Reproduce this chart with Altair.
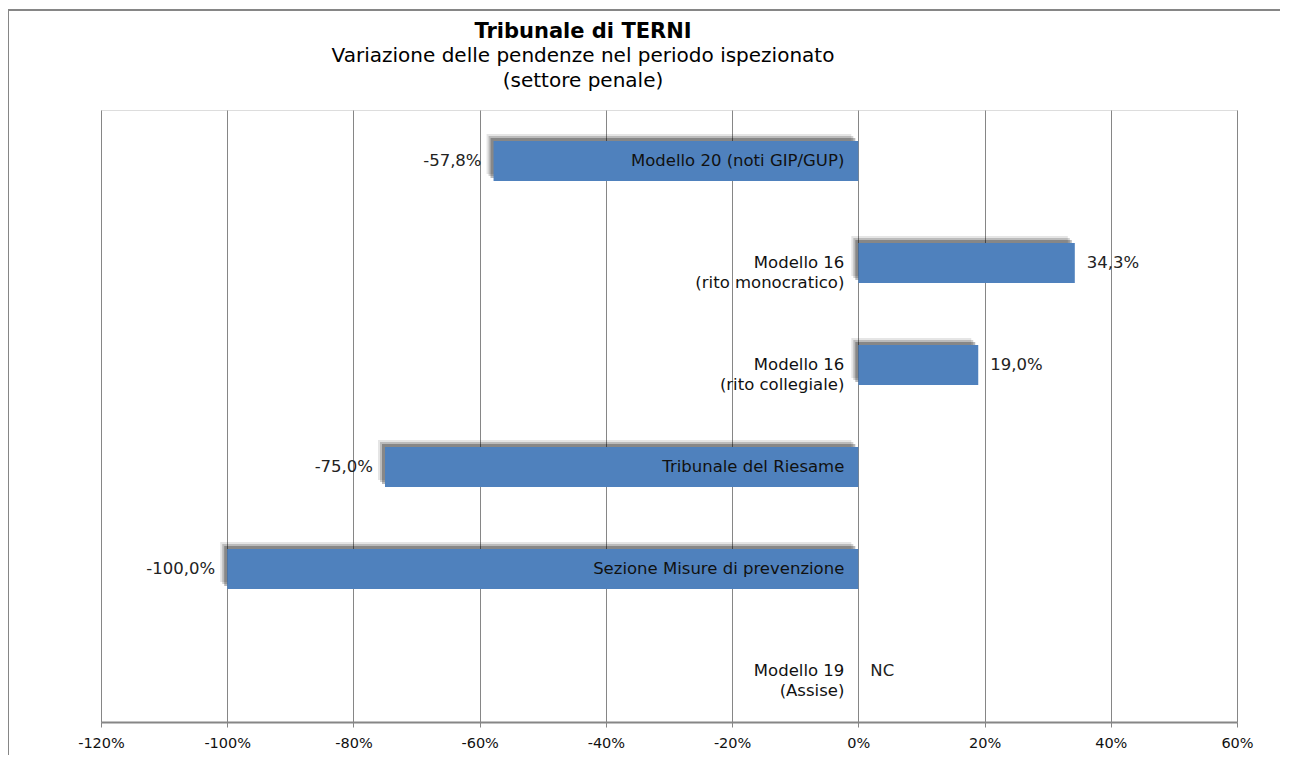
import altair as alt
import pandas as pd

categories = [
    "Modello 20 (noti GIP/GUP)",
    "Modello 16\n(rito monocratico)",
    "Modello 16\n(rito collegiale)",
    "Tribunale del Riesame",
    "Sezione Misure di prevenzione",
    "Modello 19\n(Assise)",
]
values = [-57.8, 34.3, 19.0, -75.0, -100.0, None]
value_labels = ["-57,8%", "34,3%", "19,0%", "-75,0%", "-100,0%", "NC"]
tick_values = [-120, -100, -80, -60, -40, -20, 0, 20, 40, 60]

title_text = "Tribunale di TERNI"
subtitle_lines = ["Variazione delle pendenze nel periodo ispezionato", "(settore penale)"]

df = pd.DataFrame({"cat": categories, "value": values, "vlabel": value_labels})

FONT = "DejaVu Sans"
BLUE = "#4F81BD"
GRID = "#868686"

y_enc = alt.Y("cat:N", sort=categories, axis=None,
              scale=alt.Scale(paddingInner=0.61, paddingOuter=0.305))
x_scale = alt.Scale(domain=[-120, 60], nice=False, zero=False)

base = alt.Chart(df)

bars_x = alt.X("value:Q", scale=x_scale,
               axis=alt.Axis(values=tick_values, labelExpr="datum.value + '%'",
                             grid=True, gridColor=GRID, gridWidth=1, gridOpacity=1,
                             domainColor=GRID, domainWidth=2,
                             tickColor=GRID, tickSize=5, tickWidth=1,
                             labelFont=FONT, labelFontSize=14.5, labelColor="#111",
                             labelPadding=9, labelFlush=False, labelOverlap=False,
                             title=None))

shadows = [
    base.mark_bar(color="#000", opacity=0.10, xOffset=-7, yOffset=-7).encode(x=alt.X("value:Q", scale=x_scale), y=y_enc),
    base.mark_bar(color="#000", opacity=0.18, xOffset=-5, yOffset=-5).encode(x=alt.X("value:Q", scale=x_scale), y=y_enc),
    base.mark_bar(color="#000", opacity=0.28, xOffset=-3, yOffset=-3).encode(x=alt.X("value:Q", scale=x_scale), y=y_enc),
]

bars = base.mark_bar(color=BLUE).encode(x=bars_x, y=y_enc)

cat_labels = base.mark_text(align="right", baseline="middle", dx=-14, font=FONT,
                            fontSize=16.5, lineBreak="\n", lineHeight=20,
                            color="#111").encode(
    x=alt.datum(0, scale=x_scale), y=y_enc, text="cat:N")

neg_labels = base.transform_filter("datum.value != null && datum.value < 0").mark_text(
    align="right", baseline="middle", dx=-12, font=FONT, fontSize=16.5, color="#222"
).encode(x=alt.X("value:Q", scale=x_scale), y=y_enc, text="vlabel:N")

pos_labels = base.transform_filter("datum.value == null || datum.value >= 0").transform_calculate(
    pos="datum.value == null ? 0 : datum.value"
).mark_text(
    align="left", baseline="middle", dx=12, font=FONT, fontSize=16.5, color="#222"
).encode(x=alt.X("pos:Q", scale=x_scale), y=y_enc, text="vlabel:N")

frame_v = base.mark_rule(color=GRID, strokeWidth=2).encode(
    x=alt.value(-93), y=alt.value(-101), y2=alt.value(645))
frame_h = base.mark_rule(color=GRID, strokeWidth=2).encode(
    x=alt.value(-94), x2=alt.value(1179), y=alt.value(-100))

chart = alt.layer(
    frame_v, frame_h, *shadows, bars, cat_labels, neg_labels, pos_labels
).properties(
    width=1136, height=612,
    autosize=alt.AutoSizeParams(type="none"),
    padding={"left": 93, "top": 102, "right": 50, "bottom": 33},
    title=alt.TitleParams(
        text=title_text, subtitle=subtitle_lines,
        font=FONT, fontSize=21, fontWeight="bold", color="#000",
        subtitleFont=FONT, subtitleFontSize=20, subtitleColor="#000",
        subtitleLineHeight=25, subtitlePadding=4,
        anchor="middle", frame="group", dx=-86, offset=-83,
    ),
).configure_view(stroke=None).configure(background="white")

chart.save("out.html", embed_options={"renderer": "svg", "actions": False})
